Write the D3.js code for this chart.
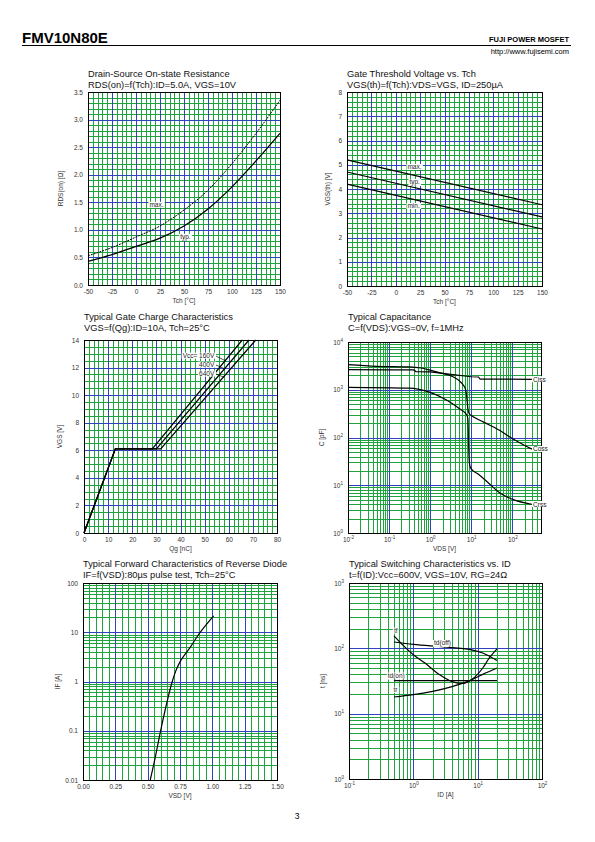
<!DOCTYPE html>
<html><head><meta charset="utf-8">
<script src="https://cdn.jsdelivr.net/npm/d3@7"></script>
<style>body{margin:0;background:#fff} svg{display:block} text{font-family:"Liberation Sans",Arial,sans-serif}</style>
</head><body><svg id="page" width="595" height="842"></svg>
<script>
// ---------- DATA ----------
// 1. RDS(on) vs Tch
const rdsTemp = [-50,-25,0,25,50,75,100,125,150];
const rdsTyp  = [0.43,0.55,0.70,0.85,1.07,1.38,1.78,2.25,2.75];
const rdsMax  = [0.53,0.68,0.87,1.07,1.36,1.72,2.20,2.75,3.35];
const rdsXTicks = [-50,-25,0,25,50,75,100,125,150];
const rdsYTicks = [0,0.5,1,1.5,2,2.5,3,3.5];
// 2. VGS(th) vs Tch
const vthTemp = [-50,150];
const vthMax = [5.2,3.35];
const vthTyp = [4.7,2.85];
const vthMin = [4.2,2.35];
const vthYTicks = [0,1,2,3,4,5,6,7,8];
// 3. Gate charge
const qgVccLabels = ["Vcc= 160V","400V","640V"];
const qg160 = [0,13,28.3,65.6];
const qg400 = [0,13,30,68.4];
const qg640 = [0,13,31.8,71.2];
const qgVgs = [0,6.1,6.1,14];
const qgXTicks = [0,10,20,30,40,50,60,70,80];
const qgYTicks = [0,2,4,6,8,10,12,14];
// 4. Capacitance
const cissV = [0.01,0.1,0.4,0.45,1,3.6,10,15,16.5,50,300];
const cissC = [2650,2620,2600,2400,2370,2080,1870,1850,1670,1670,1650];
const cossV = [0.01,0.05,0.3,0.6,1,2,3.6,5.3,6.4,7.3,7.8,8.3,9,10,20,50,100,200,300];
const cossC = [3370,3100,3010,2850,2570,2200,1870,1500,1250,1000,700,400,310,290,210,140,95,68,57];
const crssV = [0.01,0.3,1,2.5,5.3,7.7,8.3,8.6,9,9.5,10,15,24,50,106,300];
const crssC = [1120,1080,880,610,395,300,250,80,30,24,22,17,12,6.9,5,4];
const capXTicks = [0.01,0.1,1,10,100];
const capYTicks = [1,10,100,1000,10000];
// 5. Diode forward
const diodeV = [0.52,0.56,0.60,0.64,0.69,0.72,0.75,0.79,0.83,0.89,0.96,1.01];
const diodeI = [0.01,0.03,0.1,0.3,1,1.7,2.5,3.6,5.0,8.7,15,21.5];
const diodeXTicks = [0,0.25,0.5,0.75,1,1.25,1.5];
const diodeYTicks = [0.01,0.1,1,10,100];
// 6. Switching
const tfId = [0.5,0.7,1,1.5,2.5,4,6,8,12,15,20];
const tfT  = [155,110,80,60,40,31,29,33,50,70,98];
const tdoffId = [0.5,1,3,8,12,20];
const tdoffT  = [125,115,105,95,85,65];
const tdonId = [0.5,20];
const tdonT  = [32,32];
const trId = [0.5,1,2,4,7.5,12,20];
const trT  = [18,19.5,22,26,32,40,50];
const swXTicks = [0.1,1,10,100];
const swYTicks = [1,10,100,1000];

// ---------- DRAW ----------
const svg = d3.select('#page');
const GREEN = '#1fa33c', BLUE = '#3042c0', TXT = '#333';

svg.append('text').attr('x',22).attr('y',43).attr('font-size',15).attr('font-weight','bold').text('FMV10N80E');
svg.append('line').attr('x1',22).attr('x2',571).attr('y1',45.5).attr('y2',45.5).attr('stroke','#000').attr('stroke-width',1);
svg.append('text').attr('x',569).attr('y',42).attr('font-size',7.5).attr('font-weight','bold').attr('text-anchor','end').text('FUJI POWER MOSFET');
svg.append('text').attr('x',569).attr('y',54).attr('font-size',7.5).attr('text-anchor','end').text('http://www.fujisemi.com');
svg.append('text').attr('x',297).attr('y',819).attr('font-size',8.5).attr('text-anchor','middle').text('3');

function linVals(dom,step){const n=Math.round((dom[1]-dom[0])/step);return d3.range(n+1).map(i=>+(dom[0]+i*step).toFixed(6));}
function logMinor(dom){const out=[];for(let e=Math.floor(Math.log10(dom[0]));e<=Math.ceil(Math.log10(dom[1]));e++)for(let m=2;m<=9;m++){const v=m*Math.pow(10,e);if(v>dom[0]*1.0001&&v<dom[1]*0.9999)out.push(v);}return out;}
function logMajor(dom){const out=[];for(let e=Math.floor(Math.log10(dom[0]));e<=Math.ceil(Math.log10(dom[1]));e++){const v=Math.pow(10,e);if(v>=dom[0]*0.9999&&v<=dom[1]*1.0001)out.push(v);}return out;}
const px = v=>Math.round(v)+0.5;

function supLabel(sel){
  sel.each(function(d){
    const t=d3.select(this); t.text('');
    t.append('tspan').text('10');
    t.append('tspan').attr('font-size',4.5).attr('dy',-3).text(Math.round(Math.log10(d)));
  });
}

function panel(o){
  const [X0,Y0,X1,Y1]=o.box;
  const g = svg.append('g');
  const x = (o.xLog?d3.scaleLog():d3.scaleLinear()).domain(o.xDomain).range([X0,X1]);
  const y = (o.yLog?d3.scaleLog():d3.scaleLinear()).domain(o.yDomain).range([Y1,Y0]);
  const xMin = o.xLog?logMinor(o.xDomain):linVals(o.xDomain,o.xMinor);
  const xMaj = o.xLog?logMajor(o.xDomain):linVals(o.xDomain,o.xMajor);
  const yMin = o.yLog?logMinor(o.yDomain):linVals(o.yDomain,o.yMinor);
  const yMaj = o.yLog?logMajor(o.yDomain):linVals(o.yDomain,o.yMajor);
  const gl = g.append('g').attr('stroke-width',1);
  gl.selectAll(null).data(xMin).join('line').attr('x1',d=>px(x(d))).attr('x2',d=>px(x(d))).attr('y1',Y0).attr('y2',Y1).attr('stroke',GREEN);
  gl.selectAll(null).data(yMin).join('line').attr('y1',d=>px(y(d))).attr('y2',d=>px(y(d))).attr('x1',X0).attr('x2',X1).attr('stroke',GREEN);
  gl.selectAll(null).data(xMaj).join('line').attr('x1',d=>px(x(d))).attr('x2',d=>px(x(d))).attr('y1',Y0).attr('y2',Y1).attr('stroke',BLUE);
  gl.selectAll(null).data(yMaj).join('line').attr('y1',d=>px(y(d))).attr('y2',d=>px(y(d))).attr('x1',X0).attr('x2',X1).attr('stroke',BLUE);
  g.append('rect').attr('x',px(X0)).attr('y',px(Y0)).attr('width',Math.round(X1-X0)).attr('height',Math.round(Y1-Y0)).attr('fill','none').attr('stroke','#000').attr('stroke-width',1);

  const xa = d3.axisBottom(x).tickValues(o.xTicks).tickSize(0).tickPadding(4).tickFormat(o.xFmt||(d=>d));
  const xg = g.append('g').attr('transform',`translate(0,${Y1})`).call(xa);
  xg.select('.domain').remove();
  xg.selectAll('text').attr('font-size',6.5).attr('fill',TXT).attr('font-family','"Liberation Sans",Arial,sans-serif');
  if(o.xLog && !o.xFmt) xg.selectAll('text').call(supLabel);
  const ya = d3.axisLeft(y).tickValues(o.yTicks).tickSize(0).tickPadding(5).tickFormat(o.yFmt||(d=>d));
  const yg = g.append('g').attr('transform',`translate(${X0},0)`).call(ya);
  yg.select('.domain').remove();
  yg.selectAll('text').attr('font-size',6.5).attr('fill',TXT).attr('font-family','"Liberation Sans",Arial,sans-serif');
  if(o.yLog && !o.yFmt) yg.selectAll('text').call(supLabel);

  g.append('text').attr('x',(X0+X1)/2).attr('y',Y1+18).attr('font-size',6.5).attr('fill',TXT).attr('text-anchor','middle').text(o.xTitle);
  g.append('text').attr('transform',`translate(${X0-o.yTitleOff},${(Y0+Y1)/2}) rotate(-90)`).attr('font-size',6.5).attr('fill',TXT).attr('text-anchor','middle').text(o.yTitle);
  g.append('text').attr('x',X0).attr('y',o.titleY).attr('font-size',9.3).attr('fill','#111').text(o.title1);
  g.append('text').attr('x',X0).attr('y',o.titleY+11).attr('font-size',9.3).attr('fill','#111').text(o.title2);

  const lineGen = d3.line().x(d=>x(d[0])).y(d=>y(d[1])).curve(d3.curveMonotoneX);
  const linGen = d3.line().x(d=>x(d[0])).y(d=>y(d[1]));
  const cl = g.append('g');
  (o.series||[]).forEach(s=>{
    const pts = s.xs.map((v,i)=>[v,s.ys[i]]);
    cl.append('path').attr('d',(s.linear?linGen:lineGen)(pts))
      .attr('fill','none').attr('stroke',s.color||'#000').attr('stroke-width',s.w||1.2)
      .attr('stroke-dasharray',s.dash||null);
  });
  (o.leaders||[]).forEach(l=>{
    cl.append('line').attr('x1',x(l[0])).attr('y1',y(l[1])).attr('x2',x(l[2])).attr('y2',y(l[3])).attr('stroke','#000').attr('stroke-width',0.7);
  });
  (o.labels||[]).forEach(l=>{
    const lg = cl.append('g');
    const t = lg.append('text').attr('x',x(l.x)).attr('y',y(l.y)).attr('dy','0.35em').attr('font-size',6.5).attr('text-anchor',l.anchor||'start').attr('fill','#222').text(l.text);
    const b = t.node().getBBox();
    lg.insert('rect','text').attr('x',b.x-1).attr('y',b.y+0.5).attr('width',b.width+2).attr('height',b.height-1).attr('fill','#ffffff');
  });
  return {x,y};
}

const fmt1 = d=>d.toFixed(1);
// 1
panel({box:[88,92,280,285], xDomain:[-50,150], yDomain:[0,3.5], xMinor:5, xMajor:25, yMinor:0.1, yMajor:0.5,
  xTicks:rdsXTicks, yTicks:rdsYTicks, yFmt:fmt1, xTitle:'Tch [°C]', yTitle:'RDS(on) [Ω]', yTitleOff:25,
  title1:'Drain-Source On-state Resistance', title2:'RDS(on)=f(Tch):ID=5.0A, VGS=10V', titleY:77,
  series:[{xs:rdsTemp,ys:rdsMax,w:1,dash:'2,1'},{xs:rdsTemp,ys:rdsTyp,w:1.3}],
  labels:[{text:'max.',x:14,y:1.45},{text:'typ.',x:46,y:0.87}]});
// 2
panel({box:[347,92,542,286], xDomain:[-50,150], yDomain:[0,8], xMinor:5, xMajor:25, yMinor:0.2, yMajor:1,
  xTicks:rdsXTicks, yTicks:vthYTicks, xTitle:'Tch [°C]', yTitle:'VGS(th) [V]', yTitleOff:17,
  title1:'Gate Threshold Voltage vs. Tch', title2:'VGS(th)=f(Tch):VDS=VGS, ID=250µA', titleY:77,
  series:[{xs:vthTemp,ys:vthMax,linear:true},{xs:vthTemp,ys:vthTyp,linear:true},{xs:vthTemp,ys:vthMin,linear:true}],
  labels:[{text:'max.',x:12,y:4.9},{text:'typ.',x:14,y:4.28},{text:'min.',x:12,y:3.29}]});
// 3
panel({box:[84,340,277,533], xDomain:[0,80], yDomain:[0,14], xMinor:2, xMajor:10, yMinor:0.5, yMajor:2,
  xTicks:qgXTicks, yTicks:qgYTicks, xTitle:'Qg [nC]', yTitle:'VGS [V]', yTitleOff:22,
  title1:'Typical Gate Charge Characteristics', title2:'VGS=f(Qg):ID=10A, Tch=25°C', titleY:320,
  series:[{xs:qg160,ys:qgVgs,linear:true},{xs:qg400,ys:qgVgs,linear:true},{xs:qg640,ys:qgVgs,linear:true}],
  leaders:[[54.5,12.85,58.6,12.5],[54.5,12.2,58.4,11.9],[54.5,11.55,58.0,11.3]],
  labels:[{text:qgVccLabels[0],x:54,y:12.85,anchor:'end'},{text:qgVccLabels[1],x:54,y:12.2,anchor:'end'},{text:qgVccLabels[2],x:54,y:11.55,anchor:'end'}]});
// 4
panel({box:[348,342,541,533], xLog:true, yLog:true, xDomain:[0.01,500], yDomain:[1,10000],
  xTicks:capXTicks, yTicks:capYTicks, xTitle:'VDS [V]', yTitle:'C [pF]', yTitleOff:24,
  title1:'Typical Capacitance', title2:'C=f(VDS):VGS=0V, f=1MHz', titleY:320,
  series:[{xs:cissV,ys:cissC,linear:true},{xs:cossV,ys:cossC},{xs:crssV,ys:crssC}],
  labels:[{text:'Ciss',x:320,y:1650},{text:'Coss',x:320,y:57},{text:'Crss',x:320,y:4}]});
// 5
panel({box:[83,583,277,780], yLog:true, xDomain:[0,1.5], yDomain:[0.01,100], xMinor:0.05, xMajor:0.25,
  xTicks:diodeXTicks, yTicks:diodeYTicks, xFmt:d=>d.toFixed(2), yFmt:d=>String(d), xTitle:'VSD [V]', yTitle:'IF [A]', yTitleOff:23,
  title1:'Typical Forward Characteristics of Reverse Diode', title2:'IF=f(VSD):80µs pulse test, Tch=25°C', titleY:567,
  series:[{xs:diodeV,ys:diodeI}]});
// 6
panel({box:[349,583,542,779], xLog:true, yLog:true, xDomain:[0.1,100], yDomain:[1,1000],
  xTicks:swXTicks, yTicks:swYTicks, xTitle:'ID [A]', yTitle:'t [ns]', yTitleOff:24,
  title1:'Typical Switching Characteristics vs. ID', title2:'t=f(ID):Vcc=600V, VGS=10V, RG=24Ω', titleY:567,
  series:[{xs:tfId,ys:tfT},{xs:tdoffId,ys:tdoffT},{xs:tdonId,ys:tdonT,linear:true},{xs:trId,ys:trT}],
  labels:[{text:'tf',x:0.5,y:185},{text:'td(off)',x:2.1,y:120},{text:'td(on)',x:0.4,y:38},{text:'tr',x:0.49,y:23}]});
</script></body></html>
